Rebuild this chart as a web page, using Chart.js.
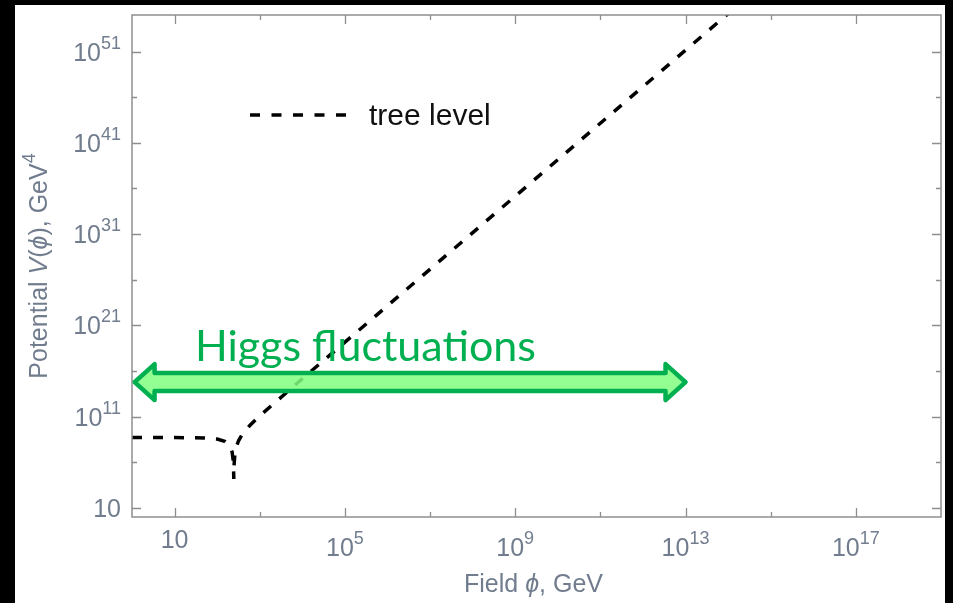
<!DOCTYPE html>
<html>
<head>
<meta charset="utf-8">
<script src="https://cdn.jsdelivr.net/npm/chart.js@4.4.1/dist/chart.umd.min.js"></script>
<style>
    html, body { margin: 0; padding: 0; background: #000; }
    canvas { display: block; }
</style>
</head>
<body>
<canvas id="potentialChart" width="953" height="603"></canvas>
<script>
// Field values (GeV) and tree level potential (GeV^4)
const fieldValues = [1, 10, 50, 100, 150, 200, 225, 240, 245, 245.5, 250, 260, 280, 320, 400, 600, 1e3, 1e4, 1e6, 1e10, 1e14];
const treeLevel = [5.0e8, 5.0e8, 4.6e8, 3.5e8, 2.0e8, 5.8e7, 1.3e7, 1.2e6, 3.3e4, 1.5e4, 5.4e5, 6.9e6, 4.4e7, 2.4e8, 1.4e9, 1.2e10, 1.2e11, 1.4e15, 1.4e23, 1.4e39, 1.4e55];

// Axis ticks
const xMajorTicks = [1e1, 1e5, 1e9, 1e13, 1e17];
const xMinorTicks = [1e3, 1e7, 1e11, 1e15];
const xTickLabels = ['10', '10^5', '10^9', '10^13', '10^17'];
const yMajorTicks = [1e1, 1e11, 1e21, 1e31, 1e41, 1e51];
const yMinorTicks = [1e6, 1e16, 1e26, 1e36, 1e46];
const yTickLabels = ['10', '10^11', '10^21', '10^31', '10^41', '10^51'];

// Annotation: range of Higgs fluctuations (field range and height on the potential axis)
const fluctuationRange = [1.15, 1e13];
const fluctuationLevel = 6e14;
const fluctuationText = 'Higgs fluctuations';
const legendText = 'tree level';

const frameColor = '#8e8e8e';
const labelColor = '#717d8e';
const green = '#00b050';
const baseFont = '25px "Liberation Sans", Arial, sans-serif';
const supFont = '18px "Liberation Sans", Arial, sans-serif';

// split '10^13' into base and exponent
function splitLabel(label) {
    const parts = label.split('^');
    return { base: parts[0], exp: parts[1] || '' };
}

// draw a list of [text, font, dy] pieces in a row starting at x
function drawPieces(ctx, pieces, x, y) {
    let cx = x;
    pieces.forEach(p => {
        ctx.font = p[1];
        ctx.fillText(p[0], cx, y + (p[2] || 0));
        cx += ctx.measureText(p[0]).width;
    });
    return cx;
}

function piecesWidth(ctx, pieces) {
    let w = 0;
    pieces.forEach(p => {
        ctx.font = p[1];
        w += ctx.measureText(p[0]).width;
    });
    return w;
}

const framePlugin = {
    id: 'mathematicaFrame',
    beforeDraw(chart) {
        const ctx = chart.ctx;
        ctx.save();
        ctx.fillStyle = '#000';
        ctx.fillRect(0, 0, chart.width, chart.height);
        ctx.fillStyle = '#fff';
        ctx.fillRect(15, 5, 930, 598);
        ctx.restore();
    },
    afterDraw(chart) {
        const ctx = chart.ctx;
        const area = chart.chartArea;
        const xs = chart.scales.x;
        const ys = chart.scales.y;
        ctx.save();

        // frame
        ctx.strokeStyle = frameColor;
        ctx.lineWidth = 1.5;
        ctx.strokeRect(area.left, area.top, area.right - area.left, area.bottom - area.top);

        // inward ticks on all four sides
        function xTick(v, len) {
            const px = Math.round(xs.getPixelForValue(v)) + 0.5;
            ctx.beginPath();
            ctx.moveTo(px, area.bottom); ctx.lineTo(px, area.bottom - len);
            ctx.moveTo(px, area.top); ctx.lineTo(px, area.top + len);
            ctx.stroke();
        }
        function yTick(v, len) {
            const py = Math.round(ys.getPixelForValue(v)) + 0.5;
            ctx.beginPath();
            ctx.moveTo(area.left, py); ctx.lineTo(area.left + len, py);
            ctx.moveTo(area.right, py); ctx.lineTo(area.right - len, py);
            ctx.stroke();
        }
        ctx.lineWidth = 1.3;
        xMajorTicks.forEach(v => xTick(v, 9));
        xMinorTicks.forEach(v => xTick(v, 5));
        yMajorTicks.forEach(v => yTick(v, 9));
        yMinorTicks.forEach(v => yTick(v, 5));

        // tick labels
        ctx.fillStyle = labelColor;
        ctx.textBaseline = 'alphabetic';
        ctx.textAlign = 'left';
        xMajorTicks.forEach((v, i) => {
            const lab = splitLabel(xTickLabels[i]);
            const px = xs.getPixelForValue(v);
            if (lab.exp) {
                const pieces = [[lab.base, baseFont, 0], [lab.exp, supFont, -12]];
                drawPieces(ctx, pieces, px - piecesWidth(ctx, pieces) / 2, 556);
            } else {
                const pieces = [[lab.base, baseFont, 0]];
                drawPieces(ctx, pieces, px - piecesWidth(ctx, pieces) / 2, 548);
            }
        });
        yMajorTicks.forEach((v, i) => {
            const lab = splitLabel(yTickLabels[i]);
            const py = ys.getPixelForValue(v);
            const pieces = [[lab.base, baseFont, 0]];
            if (lab.exp) pieces.push([lab.exp, supFont, -12]);
            drawPieces(ctx, pieces, 121 - piecesWidth(ctx, pieces), py + 9);
        });

        // axis titles
        const italic = 'italic 25px "Liberation Sans", Arial, sans-serif';
        const xTitle = [['Field ', baseFont], ['\u03D5', italic], [', GeV', baseFont]];
        drawPieces(ctx, xTitle, (area.left + area.right) / 2 - piecesWidth(ctx, xTitle) / 2 - 3, 592);

        const yTitle = [['Potential ', baseFont], ['V', italic], ['(', baseFont], ['\u03D5', italic],
            ['), GeV', baseFont], ['4', supFont, -12]];
        ctx.save();
        ctx.translate(47, (area.top + area.bottom) / 2);
        ctx.rotate(-Math.PI / 2);
        drawPieces(ctx, yTitle, -piecesWidth(ctx, yTitle) / 2, 0);
        ctx.restore();

        // legend
        ctx.strokeStyle = '#000';
        ctx.lineWidth = 3.5;
        ctx.setLineDash([10, 11.5]);
        ctx.beginPath();
        ctx.moveTo(250, 115);
        ctx.lineTo(347, 115);
        ctx.stroke();
        ctx.setLineDash([]);
        ctx.fillStyle = '#111';
        ctx.font = '30px "Liberation Sans", Arial, sans-serif';
        ctx.fillText(legendText, 369, 125);

        // double arrow for the fluctuation range
        const x0 = xs.getPixelForValue(fluctuationRange[0]);
        const x1 = xs.getPixelForValue(fluctuationRange[1]);
        const yc = ys.getPixelForValue(fluctuationLevel);
        const head = 20, half = 9, headHalf = 18;
        ctx.beginPath();
        ctx.moveTo(x0, yc);
        ctx.lineTo(x0 + head, yc - headHalf);
        ctx.lineTo(x0 + head, yc - half);
        ctx.lineTo(x1 - head, yc - half);
        ctx.lineTo(x1 - head, yc - headHalf);
        ctx.lineTo(x1, yc);
        ctx.lineTo(x1 - head, yc + headHalf);
        ctx.lineTo(x1 - head, yc + half);
        ctx.lineTo(x0 + head, yc + half);
        ctx.lineTo(x0 + head, yc + headHalf);
        ctx.closePath();
        ctx.globalAlpha = 0.85;
        ctx.fillStyle = '#80ff80';
        ctx.fill();
        ctx.globalAlpha = 1;
        ctx.lineJoin = 'round';
        ctx.lineWidth = 4.5;
        ctx.strokeStyle = green;
        ctx.stroke();

        ctx.fillStyle = green;
        ctx.font = '43px Lato, "Open Sans", sans-serif';
        ctx.fillText(fluctuationText, 195, yc - 21);

        ctx.restore();
    }
};

const ctx = document.getElementById('potentialChart').getContext('2d');
const potentialChart = new Chart(ctx, {
    type: 'line',
    data: {
        datasets: [{
            label: legendText,
            data: fieldValues.map((f, i) => ({ x: f, y: treeLevel[i] })),
            borderColor: '#000',
            borderWidth: 3.5,
            borderDash: [10, 11],
            pointRadius: 0,
            fill: false,
            tension: 0
        }]
    },
    options: {
        responsive: false,
        animation: false,
        devicePixelRatio: 1,
        layout: { padding: { left: 132, top: 15, right: 12, bottom: 86 } },
        scales: {
            x: { type: 'logarithmic', min: 1, max: 1e19, display: false },
            y: { type: 'logarithmic', min: 1, max: 1e55, display: false }
        },
        plugins: {
            legend: { display: false },
            tooltip: { enabled: false }
        }
    },
    plugins: [framePlugin]
});
</script>
</body>
</html>
